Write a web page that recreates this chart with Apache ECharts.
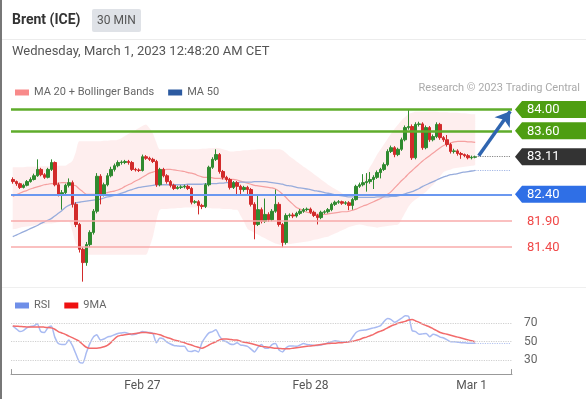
<!DOCTYPE html>
<html>
<head>
<meta charset="utf-8">
<script src="https://cdn.jsdelivr.net/npm/echarts@6/dist/echarts.min.js"></script>
<style>
  html, body { margin: 0; padding: 0; background: #fff; }
  #main { width: 586px; height: 399px; }
</style>
</head>
<body>
<div id="main"></div>
<script>
// 30 min sessions: [day label, first slot, slot count end]
const sessions = [["Feb 24", 11, 48], ["Feb 27", 0, 48], ["Feb 28", 0, 46], ["Mar 1", 0, 12]];

// [open, close, low, high]
const candles = [
  [82.68,82.64,82.60,82.72],[82.64,82.60,82.56,82.66],[82.60,82.53,82.50,82.62],[82.53,82.57,82.51,82.60],
  [82.57,82.64,82.55,82.67],[82.64,82.68,82.62,82.72],[82.68,82.75,82.66,82.79],[82.75,82.87,82.73,83.06],
  [82.87,82.77,82.74,82.90],[82.77,82.72,82.69,82.80],[82.72,82.87,82.70,82.90],[82.87,83.00,82.84,83.06],
  [83.00,82.58,82.55,83.02],[82.58,82.40,82.36,82.62],[82.40,82.43,82.11,82.48],[82.43,82.57,82.40,82.60],
  [82.57,82.62,82.53,82.70],[82.62,82.21,82.15,82.66],[82.21,81.83,81.78,82.25],[81.83,81.36,81.30,81.86],
  [81.36,81.11,80.75,81.40],[81.11,81.45,81.05,81.50],[81.45,81.68,81.40,81.72],[81.68,82.08,81.64,82.12],
  [82.08,82.74,82.04,82.80],[82.74,82.40,82.21,82.78],[82.40,82.58,82.36,82.62],[82.58,82.75,82.55,82.80],
  [82.75,82.87,82.72,82.92],[82.87,82.94,82.83,82.98],[82.94,83.00,82.91,83.04],[83.00,83.01,82.96,83.04],
  [83.00,83.02,82.97,83.05],[83.02,83.00,82.96,83.05],[83.00,82.87,82.84,83.03],[82.87,82.86,82.83,82.90],
  [82.86,82.85,82.82,82.89],[82.85,83.11,82.83,83.15],[83.11,83.08,83.05,83.14],[83.08,83.06,83.03,83.11],
  [83.06,83.02,82.99,83.09],[83.02,82.58,82.54,83.05],[82.58,82.87,82.55,82.90],[82.87,82.75,82.72,82.90],
  [82.75,82.64,82.60,82.78],[82.64,82.57,82.53,82.67],[82.57,82.51,82.48,82.60],[82.51,82.53,82.49,82.56],
  [82.53,82.54,82.50,82.57],[82.54,82.55,82.51,82.58],[82.55,82.51,82.48,82.58],[82.51,82.25,82.21,82.54],
  [82.25,82.26,82.22,82.29],[82.26,82.19,82.02,82.29],[82.19,82.17,82.12,82.22],[82.17,82.58,82.14,82.61],
  [82.58,82.91,82.55,82.94],[82.91,83.06,82.88,83.10],[83.06,83.15,83.03,83.25],[83.15,82.83,82.79,83.18],
  [82.83,82.72,82.68,82.86],[82.72,82.68,82.64,82.75],[82.68,82.53,82.49,82.71],[82.53,82.62,82.50,82.65],
  [82.62,82.55,82.40,82.65],[82.55,82.49,82.40,82.58],[82.49,82.53,82.45,82.56],[82.53,82.49,82.40,82.56],
  [82.49,82.21,82.17,82.52],[82.21,81.83,81.55,82.25],[81.83,82.11,81.80,82.40],[82.11,81.89,81.85,82.15],
  [81.89,82.02,81.86,82.32],[82.02,81.92,81.88,82.06],[81.92,82.08,81.89,82.12],[82.08,82.21,82.05,82.49],
  [82.21,81.83,81.79,82.25],[81.83,81.49,81.40,81.86],[81.49,82.00,81.45,82.04],[82.00,82.01,81.96,82.04],
  [82.01,81.99,81.95,82.05],[81.99,82.04,81.96,82.07],[82.04,82.08,82.01,82.12],[82.08,82.11,82.05,82.14],
  [82.11,82.12,82.08,82.15],[82.12,82.06,82.03,82.15],[82.06,82.00,81.97,82.09],[82.00,81.96,81.83,82.03],
  [81.96,82.06,81.93,82.09],[82.06,82.07,82.03,82.10],[82.07,82.11,82.04,82.14],[82.11,82.21,82.08,82.24],
  [82.21,82.25,82.18,82.28],[82.25,82.26,82.22,82.29],[82.26,82.23,82.20,82.28],[82.23,82.24,82.20,82.27],
  [82.24,82.19,82.10,82.27],[82.19,82.30,82.11,82.33],[82.30,82.55,82.28,82.58],[82.55,82.58,82.52,82.62],
  [82.58,82.62,82.55,82.78],[82.62,82.64,82.45,82.80],[82.64,82.68,82.60,82.82],[82.68,82.72,82.50,82.76],
  [82.72,82.81,82.69,82.85],[82.81,82.87,82.70,82.90],[82.87,82.96,82.84,83.00],[82.96,83.21,82.93,83.25],
  [83.21,83.28,83.18,83.32],[83.28,83.15,83.10,83.31],[83.15,83.25,83.12,83.28],[83.25,83.43,83.22,83.47],
  [83.43,83.66,83.40,83.70],[83.66,83.68,83.62,84.00],[83.68,83.09,83.05,83.72],[83.09,83.72,83.06,83.76],
  [83.72,83.73,83.68,83.77],[83.73,83.28,83.24,83.76],[83.28,83.66,83.25,83.70],[83.66,83.43,83.39,83.69],
  [83.43,83.49,83.40,83.53],[83.49,83.72,83.46,83.76],[83.72,83.47,83.43,83.75],[83.47,83.43,83.39,83.50],
  [83.43,83.34,83.30,83.52],[83.34,83.21,83.17,83.37],[83.21,83.22,83.17,83.26],[83.22,83.17,83.13,83.25],
  [83.17,83.15,83.07,83.20],[83.15,83.13,83.10,83.17],[83.13,83.09,83.06,83.16],[83.09,83.10,83.06,83.13],
  [83.10,83.11,83.08,83.13]
];

const ma20 = [
  82.36,82.39,82.42,82.45,82.47,82.50,82.52,82.54,82.56,82.58,
  82.59,82.60,82.60,82.61,82.62,82.62,82.60,82.58,82.56,82.50,
  82.45,82.40,82.40,82.40,82.40,82.41,82.42,82.43,82.45,82.46,
  82.48,82.51,82.55,82.58,82.61,82.65,82.68,82.72,82.76,82.80,
  82.82,82.84,82.86,82.86,82.87,82.87,82.86,82.85,82.84,82.83,
  82.81,82.80,82.78,82.75,82.73,82.72,82.72,82.71,82.70,82.70,
  82.69,82.69,82.68,82.68,82.67,82.65,82.63,82.61,82.59,82.57,
  82.56,82.55,82.54,82.53,82.52,82.50,82.46,82.40,82.34,82.27,
  82.21,82.15,82.12,82.09,82.06,82.05,82.03,82.02,82.02,82.02,
  82.03,82.04,82.05,82.06,82.07,82.07,82.08,82.10,82.12,82.15,
  82.18,82.20,82.23,82.26,82.29,82.32,82.36,82.40,82.45,82.52,
  82.59,82.66,82.72,82.79,82.85,82.91,82.97,83.03,83.08,83.13,
  83.18,83.23,83.28,83.32,83.35,83.37,83.39,83.40,83.40,83.40,
  83.39,83.39,83.38
];

const bbUpper = [
  82.91,82.91,82.91,82.91,82.92,82.92,82.92,82.92,82.93,82.93,
  82.93,82.93,82.94,82.94,82.94,82.94,82.98,83.03,83.20,83.40,
  83.40,83.40,83.40,83.40,83.40,83.40,83.41,83.41,83.42,83.42,
  83.43,83.46,83.50,83.54,83.57,83.61,83.65,83.69,83.72,83.65,
  83.55,83.38,83.25,83.25,83.25,83.25,83.25,83.25,83.25,83.25,
  83.25,83.25,83.25,83.25,83.26,83.26,83.27,83.27,83.28,83.27,
  83.25,83.23,83.21,83.21,83.22,83.22,83.23,83.23,83.24,83.24,
  83.25,83.25,83.25,83.25,83.25,83.25,83.25,83.23,83.18,83.12,
  83.07,83.02,82.97,82.92,82.88,82.83,82.78,82.73,82.68,82.63,
  82.58,82.54,82.50,82.46,82.42,82.37,82.35,82.38,82.45,82.55,
  82.68,82.80,82.92,83.03,83.15,83.25,83.35,83.45,83.55,83.64,
  83.72,83.80,83.86,83.92,83.94,83.96,83.96,83.96,83.96,83.96,
  83.96,83.96,83.95,83.95,83.95,83.94,83.94,83.94,83.93,83.93,
  83.92,83.91,83.91
];

const bbLower = [
  81.74,81.75,81.77,81.78,81.79,81.80,81.81,81.82,81.83,81.84,
  81.85,81.85,81.86,81.87,81.88,81.88,81.89,81.70,81.47,81.38,
  81.30,81.26,81.26,81.26,81.26,81.26,81.26,81.26,81.26,81.26,
  81.26,81.26,81.26,81.26,81.26,81.26,81.26,81.26,81.26,81.40,
  81.60,81.90,82.11,82.12,82.12,82.13,82.13,82.14,82.14,82.15,
  82.15,82.15,82.15,82.15,82.15,82.14,82.14,82.13,82.13,82.13,
  82.12,82.12,82.12,82.11,82.11,82.00,81.88,81.75,81.71,81.67,
  81.64,81.60,81.57,81.53,81.50,81.47,81.45,81.43,81.45,81.46,
  81.47,81.48,81.49,81.50,81.51,81.52,81.54,81.55,81.57,81.59,
  81.60,81.63,81.66,81.69,81.72,81.75,81.78,81.80,81.82,81.83,
  81.82,81.80,81.79,81.78,81.77,81.78,81.79,81.80,81.81,81.82,
  81.83,81.93,82.05,82.17,82.25,82.30,82.35,82.40,82.45,82.52,
  82.58,82.66,82.74,82.82,82.85,82.87,82.89,82.90,82.91,82.92,
  82.93,82.94,82.95
];

const ma50 = [
  81.60,81.63,81.66,81.69,81.72,81.75,81.78,81.81,81.85,81.88,
  81.91,81.94,81.99,82.04,82.09,82.15,82.19,82.22,82.24,82.25,
  82.26,82.27,82.28,82.29,82.30,82.31,82.33,82.35,82.36,82.38,
  82.40,82.42,82.44,82.47,82.49,82.51,82.53,82.54,82.55,82.56,
  82.57,82.58,82.58,82.58,82.58,82.58,82.58,82.58,82.58,82.58,
  82.59,82.59,82.59,82.59,82.59,82.60,82.60,82.60,82.60,82.61,
  82.61,82.62,82.62,82.62,82.62,82.63,82.63,82.63,82.63,82.64,
  82.64,82.64,82.64,82.63,82.62,82.61,82.60,82.59,82.57,82.56,
  82.55,82.53,82.52,82.51,82.50,82.49,82.47,82.46,82.45,82.43,
  82.42,82.41,82.39,82.38,82.37,82.36,82.35,82.35,82.34,82.34,
  82.34,82.34,82.34,82.34,82.35,82.35,82.35,82.35,82.36,82.36,
  82.37,82.39,82.41,82.43,82.45,82.48,82.51,82.55,82.58,82.61,
  82.64,82.67,82.70,82.73,82.75,82.77,82.78,82.79,82.81,82.82,
  82.83,82.84,82.85
];

const rsi = [
  67,64,61,62,65,66.5,67,69.5,61,60,
  65,67,55,48,47,47,52,46,37,28,
  27,38,48,55,57.5,52,53,55,56,57.5,
  59,59.5,60,59,57.5,58,59.5,61,60.5,60,
  59,49,54,53,49.5,47.5,46,45.5,45,45,
  40,39.5,40.5,39,49,55,59.5,61,63,56,
  51.5,50,47.5,47,49,46.5,46,45,42,39,
  44,47,43,43,47,48,41,39,43.5,45.5,
  45.5,45,46.5,48,47,46.5,46,46,46.5,47.5,
  49,50,51,50.5,50,50,50,55,60,62,
  62.5,63,64,65,66,67.5,72,75,74,71,
  73,75.5,78,77.5,62,61,58,58.5,59,55.5,
  58,57,55,54,52,50,50,49.5,49,49,
  48.5,48.5,48.5
];

const rsi9 = [
  67,66.8,66.5,66.3,66,66,66,66,66,65.8,
  65.5,65,63.5,61,59.5,58,56,54.5,52.5,50.5,
  47,44,43,43,43,43.5,44.5,46,49,53,
  56,57,57.5,58,58.5,59,59.5,60,60,59.5,
  59,58.5,57.5,56,54.5,53.5,52,51,50,49,
  47.5,46.5,45,44,43,44.5,46.5,48.5,50,52,
  53,53,52.5,52,52,50.5,49.5,49,48,47,
  46,45,44.5,44,43.5,43,42.8,42.5,42.5,42.5,
  43,43.5,44,44.5,45,45.5,46,46.5,47,47.5,
  48,48.5,48.5,49,49,49.5,50,50.5,51.5,52.5,
  54,55,56.5,58,60,61.5,63,65,67,68.5,
  70,71,72,73.5,74,72.5,71,69,67.5,66,
  64,62,60,59,58,57,56,55,54,53,
  52,51,50
];

const levels = [
  { value: 84.00, kind: "res" },
  { value: 83.60, kind: "res" },
  { value: 82.40, kind: "pivot" },
  { value: 81.90, kind: "sup" },
  { value: 81.40, kind: "sup" }
];
const lastPrice = 83.11;
const rsiLevels = [30, 50, 70];

const categories = [];
sessions.forEach(([day, from, to]) => {
  for (let s = from; s < to; s++) {
    const hh = String(Math.floor(s / 2)).padStart(2, "0");
    const mm = s % 2 ? "30" : "00";
    categories.push(day + " " + hh + ":" + mm);
  }
});

const last = candles.length - 1;
const lastCat = categories.length - 1;
const bandWidth = bbUpper.map((u, i) => +(u - bbLower[i]).toFixed(2));

const FONT = "Roboto, 'Liberation Sans', sans-serif";
const colors = {
  res: "#5fac2b", resTag: "#4e9e12",
  pivot: "#6b98f0", pivotTag: "#2f6fe6",
  sup: "#f8abab", supText: "#f04848",
  up: "#2f8a2f", down: "#d22b2b"
};

const lineStyleFor = (k) => k === "res" ? { color: colors.res, width: 2.5, type: "solid" }
  : k === "pivot" ? { color: colors.pivot, width: 2, type: "solid" }
  : { color: colors.sup, width: 1.5, type: "solid" };

const chart = echarts.init(document.getElementById("main"));

chart.setOption({
  animation: false,
  textStyle: { fontFamily: FONT },
  legend: [
    {
      left: 10, top: 82, itemWidth: 14, itemHeight: 6, itemGap: 14, icon: "rect",
      textStyle: { color: "#666", fontSize: 11, fontFamily: FONT },
      data: [
        { name: "MA 20 + Bollinger Bands", itemStyle: { color: "#f88a8a" } },
        { name: "MA 50", itemStyle: { color: "#2c5aa0" } }
      ],
      selectedMode: false
    },
    {
      left: 10, top: 295, itemWidth: 14, itemHeight: 6, itemGap: 14, icon: "rect",
      textStyle: { color: "#666", fontSize: 11, fontFamily: FONT },
      data: [
        { name: "RSI", itemStyle: { color: "#6f8fe8" } },
        { name: "9MA", itemStyle: { color: "#ee1111" } }
      ],
      selectedMode: false
    }
  ],
  grid: [
    { left: 11, right: 74, top: 99, height: 180 },
    { left: 11, right: 74, top: 314, height: 60.1 }
  ],
  xAxis: [
    { type: "category", gridIndex: 0, data: categories, show: false },
    {
      type: "category", gridIndex: 1, data: categories,
      axisLine: { lineStyle: { color: "#999", width: 1 } },
      axisTick: { show: false },
      axisLabel: {
        color: "#555", fontSize: 12, margin: 6, fontFamily: FONT,
        interval: (i, v) => v.endsWith("00:00") && !v.startsWith("Feb 24"),
        formatter: (v) => v.split(" ").slice(0, 2).join(" ")
      }
    }
  ],
  yAxis: [
    { type: "value", gridIndex: 0, min: 80.8, max: 84.2, show: false },
    {
      type: "value", gridIndex: 1, min: 15, max: 80, position: "right",
      axisLine: { show: false }, axisTick: { show: false }, splitLine: { show: false },
      axisLabel: { customValues: rsiLevels, color: "#666", fontSize: 12, margin: 12, fontFamily: FONT }
    }
  ],
  series: [
    {
      name: "bbLower", type: "line", xAxisIndex: 0, yAxisIndex: 0, stack: "bb",
      data: bbLower, showSymbol: false, smooth: 0.3, lineStyle: { opacity: 0 }, silent: true, z: 1
    },
    {
      name: "bbBand", type: "line", xAxisIndex: 0, yAxisIndex: 0, stack: "bb",
      data: bandWidth, showSymbol: false, smooth: 0.3, lineStyle: { opacity: 0 },
      areaStyle: { color: "rgba(252,196,196,0.42)" }, silent: true, z: 1
    },
    {
      name: "MA 20 + Bollinger Bands", type: "line", xAxisIndex: 0, yAxisIndex: 0,
      data: ma20, showSymbol: false, smooth: 0.3,
      lineStyle: { color: "#f5a0a0", width: 1.2 }, itemStyle: { color: "#f5a0a0" }, z: 2
    },
    {
      name: "MA 50", type: "line", xAxisIndex: 0, yAxisIndex: 0,
      data: ma50, showSymbol: false, smooth: 0.3,
      lineStyle: { color: "#97acdc", width: 1.3 }, itemStyle: { color: "#97acdc" }, z: 2
    },
    {
      name: "Brent", type: "candlestick", xAxisIndex: 0, yAxisIndex: 0,
      data: candles, barWidth: 3, z: 3,
      itemStyle: { color: colors.up, color0: colors.down, borderColor: colors.up, borderColor0: colors.down, borderWidth: 1 },
      markLine: {
        silent: true, symbol: "none", label: { show: false }, animation: false,
        data: levels.map(l => ({ yAxis: l.value, lineStyle: lineStyleFor(l.kind) })).concat([
          [
            { coord: [categories[last], lastPrice] },
            { coord: [categories[lastCat], lastPrice], lineStyle: { color: "#888", type: "dotted", width: 1.2 } }
          ],
          [
            { coord: [categories[last], ma50[last]] },
            { coord: [categories[lastCat], ma50[last]], lineStyle: { color: "#a5b8e6", type: "dotted", width: 1.2 } }
          ],
          [
            { coord: [categories[last + 1], lastPrice + 0.02], symbol: "none" },
            { coord: [categories[lastCat], levels[0].value - 0.03], symbol: "arrow", symbolSize: 14,
              lineStyle: { color: "#2f65b0", width: 3.5, type: "solid" } }
          ]
        ])
      }
    },
    {
      name: "RSI", type: "line", xAxisIndex: 1, yAxisIndex: 1,
      data: rsi, showSymbol: false, smooth: 0.2,
      lineStyle: { color: "#a9bbf2", width: 1.5 }, itemStyle: { color: "#a9bbf2" },
      markLine: {
        silent: true, symbol: "none", label: { show: false },
        lineStyle: { color: "#d0d0d0", type: "dotted", width: 1.2 },
        data: rsiLevels.map(v => ({ yAxis: v })).concat([[
          { coord: [categories[last], rsi[last]] },
          { coord: [categories[lastCat], rsi[last]], lineStyle: { color: "#b3c3f0", type: "dotted", width: 1.2 } }
        ]])
      }
    },
    {
      name: "9MA", type: "line", xAxisIndex: 1, yAxisIndex: 1,
      data: rsi9, showSymbol: false, smooth: 0.3,
      lineStyle: { color: "#f26b6b", width: 1.5 }, itemStyle: { color: "#f26b6b" }
    }
  ]
});

// header, right-hand price tags and panel decorations
const gfx = [
  { type: "rect", shape: { x: 0, y: 0, width: 2, height: 399 }, style: { fill: "#777" } },
  { type: "line", shape: { x1: 2, y1: 39.5, x2: 586, y2: 39.5 }, style: { stroke: "#ececec", lineWidth: 1 } },
  { type: "line", shape: { x1: 2, y1: 287.5, x2: 586, y2: 287.5 }, style: { stroke: "#efefef", lineWidth: 1 } },
  { type: "text", x: 12, y: 20, style: { text: "Brent (ICE)", font: "bold 14px " + FONT, fill: "#333", verticalAlign: "middle" } },
  { type: "rect", shape: { x: 92, y: 9, width: 49, height: 23, r: 2 }, style: { fill: "#dfe2e7" } },
  { type: "text", x: 116.5, y: 20.5, style: { text: "30 MIN", font: "12px " + FONT, fill: "#555", align: "center", verticalAlign: "middle" } },
  { type: "text", x: 12, y: 52, style: { text: "Wednesday, March 1, 2023 12:48:20 AM CET", font: "13px " + FONT, fill: "#555", verticalAlign: "middle" } },
  { type: "text", x: 580, y: 88, style: { text: "Research © 2023 Trading Central", font: "11px " + FONT, fill: "#aaa", align: "right", verticalAlign: "middle" } }
];

const axisY = 314 + 60.1;
gfx.push(
  { type: "line", shape: { x1: 11.5, y1: axisY - 5, x2: 11.5, y2: axisY }, style: { stroke: "#999", lineWidth: 1 } },
  { type: "line", shape: { x1: 511.5, y1: axisY - 5, x2: 511.5, y2: axisY }, style: { stroke: "#999", lineWidth: 1 } }
);

function tag(value, fill, text) {
  const y = chart.convertToPixel({ yAxisIndex: 0 }, value);
  gfx.push({
    type: "polygon",
    shape: { points: [[515, y], [522, y - 8.5], [586, y - 8.5], [586, y + 8.5], [522, y + 8.5]] },
    style: { fill: fill }
  });
  gfx.push({ type: "text", x: 527, y: y + 0.5, style: { text: text, font: "13px " + FONT, fill: "#fff", verticalAlign: "middle" } });
}

levels.forEach(l => {
  const txt = l.value.toFixed(2);
  if (l.kind === "res") tag(l.value, colors.resTag, txt);
  else if (l.kind === "pivot") tag(l.value, colors.pivotTag, txt);
  else {
    const y = chart.convertToPixel({ yAxisIndex: 0 }, l.value);
    gfx.push({ type: "text", x: 527, y: y + 0.5, style: { text: txt, font: "13px " + FONT, fill: colors.supText, verticalAlign: "middle" } });
  }
});
tag(lastPrice, "#333", lastPrice.toFixed(2));

chart.setOption({ graphic: gfx });
</script>
</body>
</html>
